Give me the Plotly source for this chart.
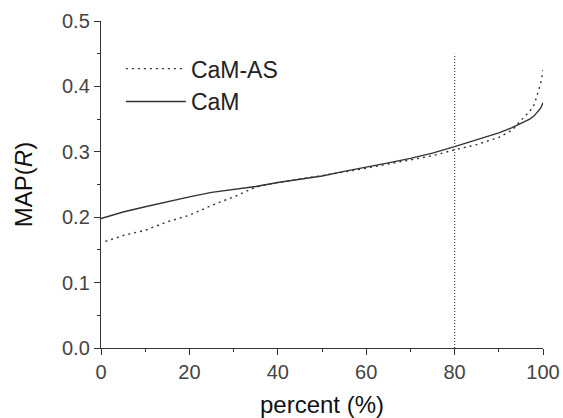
import plotly.graph_objects as go

# Data
cam_x = [0, 5, 10, 15, 20, 25, 30, 35, 40, 45, 50, 55, 60, 65, 70, 75, 80, 85, 90, 93, 95, 97, 98, 99, 99.5, 100]
cam_y = [0.198, 0.208, 0.216, 0.224, 0.231, 0.238, 0.242, 0.247, 0.253, 0.258, 0.263, 0.270, 0.276,
         0.283, 0.290, 0.298, 0.308, 0.318, 0.329, 0.337, 0.343, 0.350, 0.355, 0.362, 0.367, 0.375]

camas_x = [1, 5, 10, 15, 20, 25, 30, 35, 40, 45, 50, 55, 60, 65, 70, 75, 80, 85, 90, 93, 95, 97, 98, 99, 99.5, 100]
camas_y = [0.163, 0.172, 0.180, 0.193, 0.203, 0.218, 0.231, 0.246, 0.253, 0.258, 0.263, 0.269, 0.275,
           0.281, 0.287, 0.294, 0.303, 0.311, 0.322, 0.333, 0.348, 0.362, 0.372, 0.392, 0.405, 0.425]

cutoff_x = [80, 80]
cutoff_y = [0.0, 0.45]

FONT = "Arial, Liberation Sans, sans-serif"

fig = go.Figure()
fig.add_trace(go.Scatter(x=camas_x, y=camas_y, mode="lines", name="CaM-AS",
                         line=dict(color="#333333", width=1.4, dash="2px,4px")))
fig.add_trace(go.Scatter(x=cam_x, y=cam_y, mode="lines", name="CaM",
                         line=dict(color="#333333", width=1.4)))
fig.add_trace(go.Scatter(x=cutoff_x, y=cutoff_y, mode="lines", showlegend=False,
                         line=dict(color="#444444", width=1.2, dash="1px,2px")))

fig.update_layout(
    width=563, height=418,
    margin=dict(l=101, r=20, t=21, b=70, autoexpand=False),
    paper_bgcolor="white", plot_bgcolor="white",
    font=dict(family=FONT, color="#222222"),
    legend=dict(x=0.045, y=0.92, xanchor="left", yanchor="top",
                bgcolor="rgba(0,0,0,0)", font=dict(size=23, color="#222222"),
                itemwidth=60, tracegroupgap=0),
    showlegend=True,
)
fig.update_xaxes(
    range=[0, 100], dtick=20, tick0=0, showgrid=False, zeroline=False, automargin=False,
    showline=True, linecolor="#333333", linewidth=1.4,
    ticks="outside", ticklen=6, tickwidth=1.4, tickcolor="#333333",
    tickfont=dict(size=20, color="#444444"),
    minor=dict(dtick=10, ticks="outside", ticklen=3, tickwidth=1.2, tickcolor="#333333", showgrid=False),
    title=dict(text="percent (%)", font=dict(size=24, color="#111111"), standoff=22),
)
fig.update_yaxes(
    range=[0, 0.5], dtick=0.1, tick0=0, tickformat=".1f", showgrid=False, zeroline=False, automargin=False,
    showline=True, linecolor="#333333", linewidth=1.4,
    ticks="outside", ticklen=6, tickwidth=1.4, tickcolor="#333333",
    tickfont=dict(size=20, color="#444444"),
    minor=dict(dtick=0.05, ticks="outside", ticklen=3, tickwidth=1.2, tickcolor="#333333", showgrid=False),
    title=dict(text="MAP(<i>R</i>)", font=dict(size=24, color="#111111"), standoff=22),
)

fig.write_html("out.html")
